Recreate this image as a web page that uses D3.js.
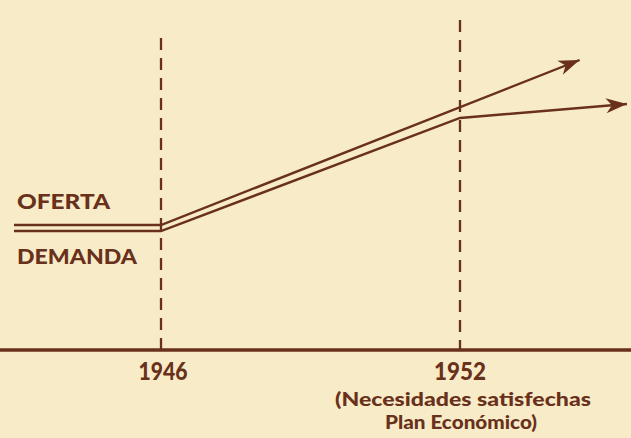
<!DOCTYPE html>
<html>
<head>
<meta charset="utf-8">
<script src="https://cdn.jsdelivr.net/npm/d3@7"></script>
<style>
  html, body { margin: 0; padding: 0; background: #f7ecc7; }
  svg { display: block; }
  text { font-family: "Lato", "Open Sans", sans-serif; font-weight: 900; fill: #69301b; }
</style>
</head>
<body>
<svg id="chart" width="631" height="438"></svg>
<script>
// ---- data ----
const markerYears = [1946, 1952];
const markerLabels = ["1946", "1952"];
const markerNote = ["(Necesidades satisfechas", "Plan Económico)"];
const ofertaYears = [1943.05, 1946, 1954.4];
const ofertaValues = [125, 125, 290];
const demandaYears = [1943.05, 1946, 1952, 1955.35];
const demandaValues = [119, 119, 232, 246];
const seriesLabels = ["OFERTA", "DEMANDA"];

const ink = "#69301b";
const W = 631, H = 438;
const svg = d3.select("#chart");
svg.append("rect").attr("width", W).attr("height", H).attr("fill", "#f7ecc7");

const x = d3.scaleLinear().domain([1946, 1952]).range([161, 460]);
const y = d3.scaleLinear().domain([0, 300]).range([350, 50]);

// arrow marker
const defs = svg.append("defs");
defs.append("marker")
  .attr("id", "arr")
  .attr("markerUnits", "userSpaceOnUse")
  .attr("viewBox", "-22 -9 24 18")
  .attr("refX", 0).attr("refY", 0)
  .attr("markerWidth", 24).attr("markerHeight", 18)
  .attr("orient", "auto")
  .append("path")
  .attr("d", "M0,0 L-21,-7.5 L-15,0 L-21,7.5 Z")
  .attr("fill", ink);

// dashed verticals
const dashTop = [38, 20];
markerYears.forEach((yr, i) => {
  svg.append("line")
    .attr("x1", x(yr)).attr("x2", x(yr))
    .attr("y1", dashTop[i]).attr("y2", y(0))
    .attr("stroke", ink).attr("stroke-width", 2.3)
    .attr("stroke-dasharray", "12,8");
});

// baseline axis
svg.append("line")
  .attr("x1", 0).attr("x2", W)
  .attr("y1", y(0)).attr("y2", y(0))
  .attr("stroke", ink).attr("stroke-width", 3.4);

// series lines
const line = d3.line().x(d => x(d[0])).y(d => y(d[1]));
const of = ofertaYears.map((t, i) => [t, ofertaValues[i]]);
const de = demandaYears.map((t, i) => [t, demandaValues[i]]);
[of, de].forEach(pts => {
  svg.append("path")
    .attr("d", line(pts))
    .attr("fill", "none")
    .attr("stroke", ink)
    .attr("stroke-width", 2.4)
    .attr("marker-end", "url(#arr)");
});

// series labels
svg.append("text").text(seriesLabels[0])
  .attr("x", 17).attr("y", 209)
  .attr("font-size", 20.5)
  .attr("textLength", 93).attr("lengthAdjust", "spacingAndGlyphs");
svg.append("text").text(seriesLabels[1])
  .attr("x", 17).attr("y", 264)
  .attr("font-size", 21)
  .attr("textLength", 120).attr("lengthAdjust", "spacingAndGlyphs");

// year labels
svg.append("text").text(markerLabels[0])
  .attr("x", x(markerYears[0]) + 2).attr("y", 380)
  .attr("text-anchor", "middle").attr("font-size", 24)
  .attr("textLength", 49).attr("lengthAdjust", "spacingAndGlyphs");
svg.append("text").text(markerLabels[1])
  .attr("x", x(markerYears[1])).attr("y", 380)
  .attr("text-anchor", "middle").attr("font-size", 24)
  .attr("textLength", 52).attr("lengthAdjust", "spacingAndGlyphs");
svg.append("text").text(markerNote[0])
  .attr("x", x(markerYears[1]) + 3).attr("y", 406)
  .attr("text-anchor", "middle").attr("font-size", 19.5)
  .attr("textLength", 256).attr("lengthAdjust", "spacingAndGlyphs");
svg.append("text").text(markerNote[1])
  .attr("x", x(markerYears[1]) + 1).attr("y", 429)
  .attr("text-anchor", "middle").attr("font-size", 19.5)
  .attr("textLength", 152).attr("lengthAdjust", "spacingAndGlyphs");
</script>
</body>
</html>
